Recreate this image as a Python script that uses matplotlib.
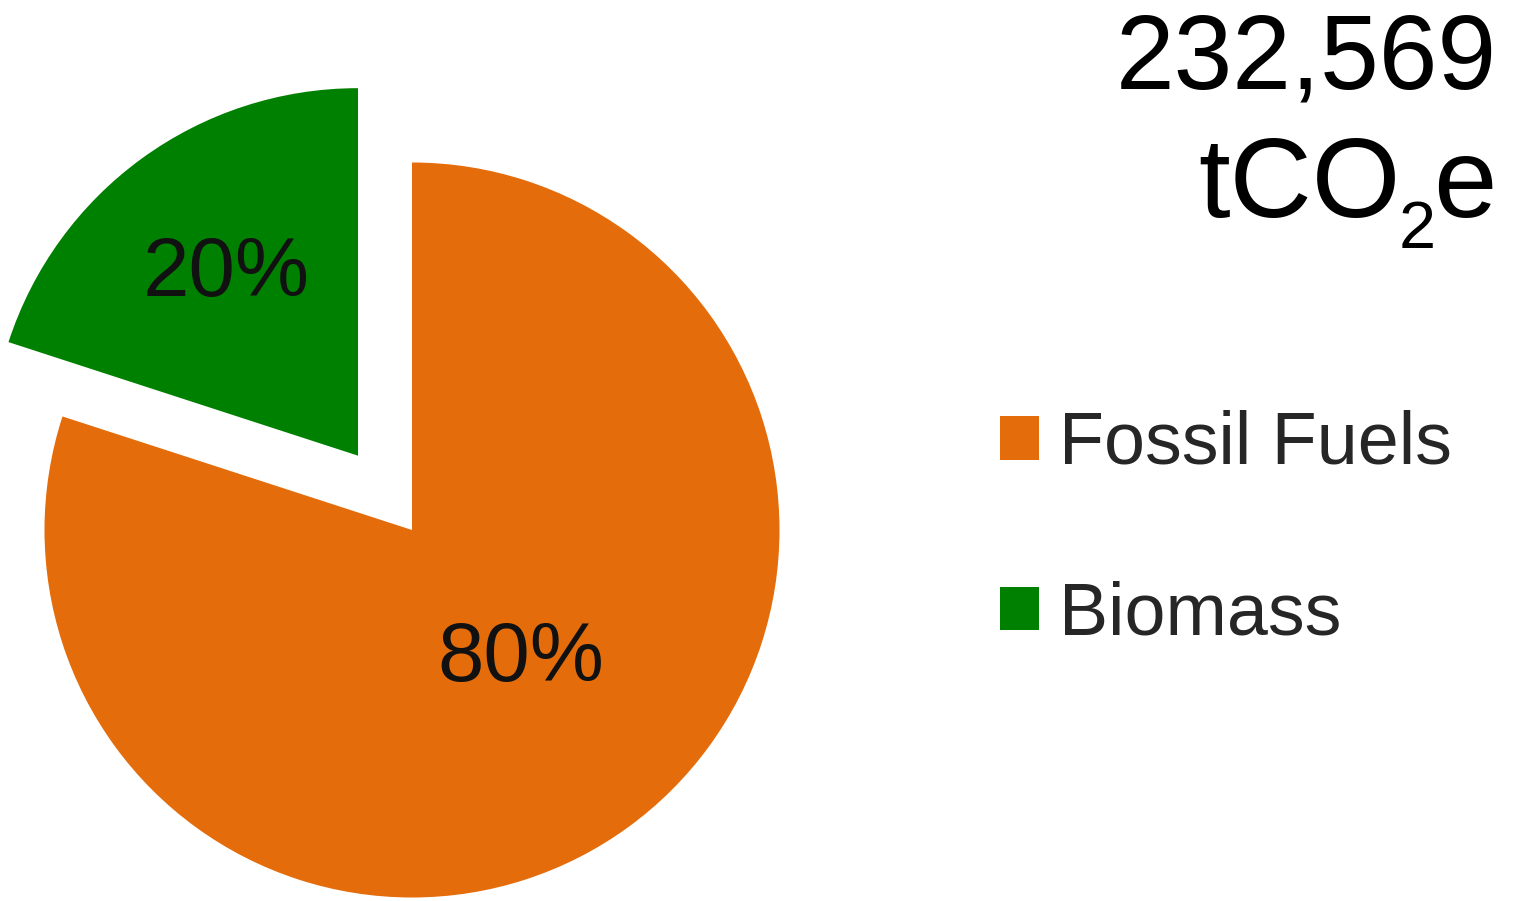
import numpy as np
import matplotlib
matplotlib.use("Agg")
import matplotlib.pyplot as plt
from matplotlib.patches import Patch

plt.rcParams['font.family'] = ['Liberation Sans', 'DejaVu Sans']

# Data
labels = ["Fossil Fuels", "Biomass"]
shares = [80, 20]
colors = ["#E46C0A", "#008000"]
explode = [0, 0.25]
total_text = "232,569"
unit_parts = ["tCO", "2", "e"]

W, H = 1515, 901
fig = plt.figure(figsize=(W / 100, H / 100), dpi=100)
ax = fig.add_axes([0, 0, 1, 1])

# Pie (in pixel units)
cx, cy, r = 412, H - 530, 367.5
wedges, texts, autotexts = ax.pie(
    shares, colors=colors, explode=[e * r for e in explode], startangle=90, counterclock=False,
    center=(cx, cy), radius=r, autopct="%d%%", pctdistance=0.6,
    textprops=dict(fontsize=60, color="#111111"), frame=True,
)
ax.set_xlim(0, W)
ax.set_ylim(0, H)
ax.set_aspect("equal")
ax.axis("off")

# place percentage labels relative to each wedge
label_dist = [0.46, 0.61]
label_turn = [4, 0]
for w, t, d, a in zip(wedges, autotexts, label_dist, label_turn):
    ang = np.deg2rad((w.theta1 + w.theta2) / 2 + a)
    wx, wy = w.center
    t.set_position((wx + d * r * np.cos(ang), wy + d * r * np.sin(ang)))
    t.set_ha("center")
    t.set_va("center")

# Total
ax.text(1497, H - 88, total_text, fontsize=76, ha="right", va="baseline", color="black")

# unit with a subscript, built right to left
fig.canvas.draw()
rend = fig.canvas.get_renderer()
inv = ax.transData.inverted()
x_right = 1497
sizes = [82, 48, 82]
bases = [H - 217, H - 248, H - 217]
for part, fs, yb in reversed(list(zip(unit_parts, sizes, bases))):
    t = ax.text(x_right, yb, part, fontsize=fs, ha="right", va="baseline", color="black")
    bb = t.get_window_extent(rend)
    x_right = inv.transform((bb.x0, bb.y0))[0] + 2

# Legend
handles = [Patch(facecolor=c, edgecolor="none") for c in colors]
leg = ax.legend(handles, labels, loc="upper left", bbox_to_anchor=(1000 / W, 1 - 410 / H),
                frameon=False, fontsize=53, handlelength=0.53, handleheight=0.53,
                handletextpad=0.27, labelspacing=1.38, borderpad=0, borderaxespad=0)
for t in leg.get_texts():
    t.set_color("#262626")

fig.savefig("out.png", dpi=100, facecolor="white")
